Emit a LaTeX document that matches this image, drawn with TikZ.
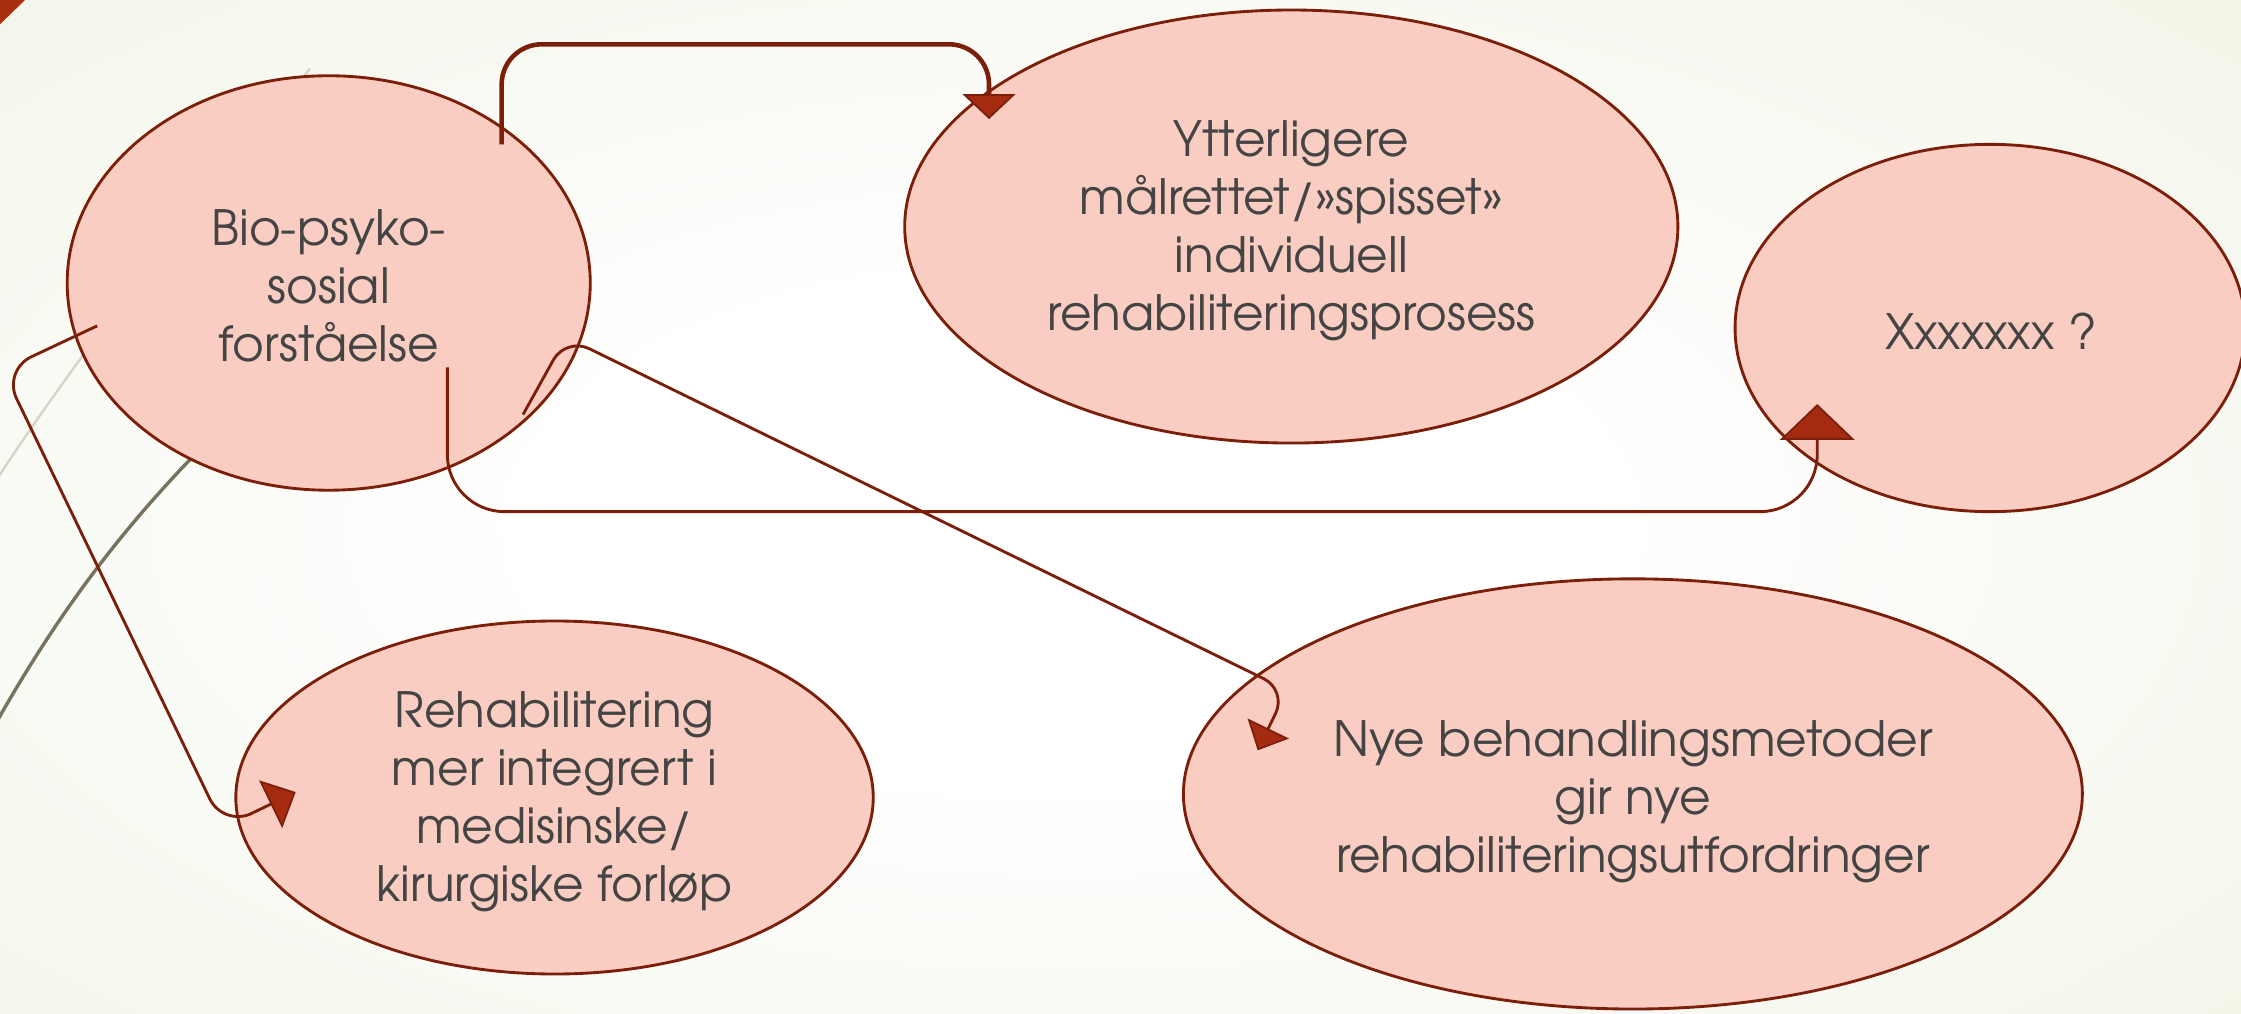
\documentclass[tikz,border=0pt]{standalone}
\usepackage{fontspec}
\setmainfont{TeX Gyre Adventor}
\usetikzlibrary{shapes.geometric,arrows.meta}
\definecolor{efill}{HTML}{F9CDC1}
\definecolor{edraw}{HTML}{7B1F0A}
\definecolor{afill}{HTML}{A42B10}
\definecolor{txt}{HTML}{444444}
\definecolor{bgA}{HTML}{F4F7EC}
\definecolor{bgB}{HTML}{E4EBCE}
\definecolor{cornerred}{HTML}{A8300F}
\definecolor{decoA}{HTML}{D3D5C8}
\definecolor{decoB}{HTML}{77735F}
\pgfdeclareradialshading{bgshade}{\pgfpoint{0bp}{0bp}}{color(0bp)=(white); color(10bp)=(white); color(28bp)=(bgA); color(45bp)=(bgB); color(50bp)=(bgB)}
\begin{document}
\begin{tikzpicture}[x=1pt,y=-1pt,
  bubble/.style={ellipse, draw=edraw, line width=2pt, fill=efill, inner sep=0pt},
  btext/.style={inner sep=0pt, text=txt, align=center, font=\fontsize{34}{40.5}\selectfont},
  conn/.style={draw=edraw, line width=2pt},
]
\useasboundingbox (0,0) rectangle (1568,709);
% background
\begin{scope}
\clip (0,0) rectangle (1568,709);
\shade[shading=bgshade] (-150,-60) rectangle (1650,800);
\fill[cornerred] (0,0) -- (17.5,0) -- (0,17) -- cycle;
\draw[decoA, line width=1.6pt] (-4,338) .. controls (60,240) and (140,140) .. (217,48);
\draw[decoB, line width=2.4pt] (-4,508) .. controls (40,430) and (90,360) .. (170,285);
\end{scope}
% ellipses
\node[bubble, minimum width=366pt, minimum height=290pt] (bio) at (230,198) {};
\node[bubble, minimum width=541pt, minimum height=303pt] (ytt) at (903.5,158.5) {};
\node[bubble, minimum width=357pt, minimum height=257pt] (xxx) at (1392.5,229.5) {};
\node[bubble, minimum width=446pt, minimum height=247pt] (reh) at (388,558) {};
\node[bubble, minimum width=629pt, minimum height=301pt] (nye) at (1142.5,555.5) {};
% texts
\node[btext] (bioT) at (230,200) {Bio-psyko-\\sosial\\forståelse};
\node[btext] (yttT) at (903.5,161.5) {Ytterligere\\målrettet/»spisset»\\individuell\\rehabiliteringsprosess};
\node[btext] (xxxT) at (1393,232) {Xxxxxxx ?};
\node[btext] (rehT) at (388,561) {Rehabilitering\\mer integrert i\\medisinske/\\kirurgiske forløp};
\node[btext] (nyeT) at (1142.5,561) {Nye behandlingsmetoder\\gir nye\\rehabiliteringsutfordringer};
% connector coordinates
\coordinate (s1) at (351,101);
\coordinate (e1) at (692,83.3);
\coordinate (s2) at (313,257);
\coordinate (e2) at (1271.5,282.7);
\coordinate (s3) at (68,228);
\coordinate (e3) at (206.9,554.2);
\coordinate (s4) at (366,290);
\coordinate (e4) at (880,525);
% connectors
\draw[conn, line width=3.2pt, rounded corners=28pt, -{Triangle[width=37pt,length=17.5pt,fill=afill,line width=1.2pt]}]
  (s1) -- (s1 |- 0,31) -- (e1 |- 0,31) -- (e1);
\draw[conn, rounded corners=40pt, -{Triangle[width=52pt,length=25pt,fill=afill,line width=1.2pt]}]
  (s2) -- (s2 |- 0,358) -- (e2 |- 0,358) -- (e2);
\draw[conn, rounded corners=22pt, -{Triangle[width=37pt,length=19.5pt,fill=afill,line width=1.2pt]}]
  (s3) -- (2,259) -- (156.3,578.7) -- (e3);
\draw[conn, rounded corners=18pt, -{Triangle[width=32pt,length=17pt,fill=afill,line width=1.2pt]}]
  (s4) -- (396,236) -- (900.4,482.8) -- (e4);
\end{tikzpicture}
\end{document}
